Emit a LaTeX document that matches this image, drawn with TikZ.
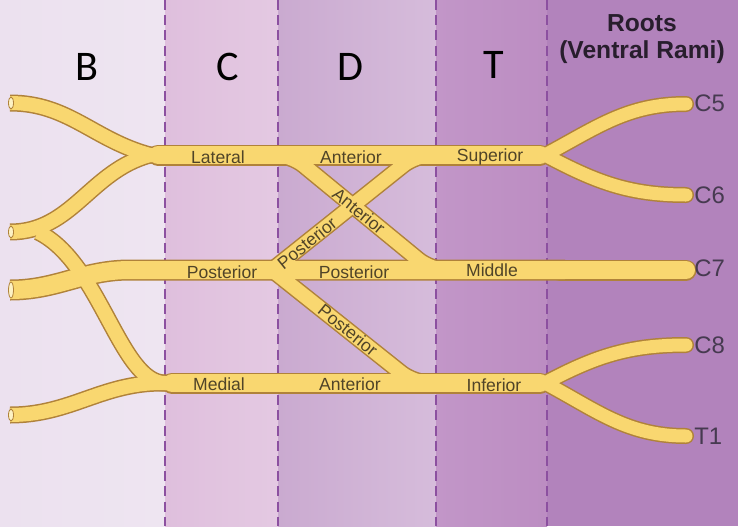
\documentclass[tikz,border=0pt]{standalone}
\usepackage{fontspec}
\setmainfont{Liberation Sans}
\newfontfamily\zonefont{Carlito}
\usepackage{xcolor}
\usepackage{tikz}
\usetikzlibrary{positioning, calc}
\definecolor{nerveYellow}{RGB}{249, 215, 112}
\definecolor{nerveBrown}{RGB}{176, 130, 58}
\definecolor{nerveCut}{RGB}{253, 242, 196}
\definecolor{zoneLine}{RGB}{140, 80, 160}
\definecolor{labelText}{RGB}{80, 68, 40}
\definecolor{rootText}{RGB}{70, 58, 80}
\definecolor{titleText}{RGB}{40, 30, 45}
\definecolor{bgB}{RGB}{236, 225, 239}
\definecolor{bgBb}{RGB}{238, 229, 241}
\definecolor{bgC}{RGB}{223, 191, 221}
\definecolor{bgCc}{RGB}{228, 201, 226}
\definecolor{bgD}{RGB}{202, 170, 208}
\definecolor{bgDd}{RGB}{214, 188, 219}
\definecolor{bgT}{RGB}{194, 150, 200}
\definecolor{bgTt}{RGB}{188, 141, 194}
\definecolor{bgRoots}{RGB}{178, 131, 188}

\begin{document}
\begin{tikzpicture}[x=0.25mm, y=-0.25mm,
    zoneline/.style={draw=zoneLine, line width=0.5mm, dash pattern=on 2.5mm off 1.3mm},
    zonetext/.style={font=\zonefont\fontsize{30}{32}\selectfont, text=black, inner sep=0pt},
    titletext/.style={font=\bfseries\fontsize{17.5}{19.5}\selectfont, align=center, text=titleText, inner sep=0pt},
    nervelabel/.style={font=\fontsize{12.5}{14}\selectfont, text=labelText, inner sep=0pt},
    rootlabel/.style={font=\fontsize{17}{19}\selectfont, text=rootText, anchor=west, inner sep=0pt},
    cutend/.style={fill=nerveCut, draw=nerveBrown, line width=0.2mm}]

    \useasboundingbox (0,0) rectangle (738,526);

    % Zones (branches, cords, divisions, trunks, roots)
    \shade[left color=bgB, right color=bgBb] (0,0) rectangle (165,526);
    \shade[left color=bgC, right color=bgCc] (165,0) rectangle (278,526);
    \shade[left color=bgD, right color=bgDd] (278,0) rectangle (436,526);
    \shade[left color=bgT, right color=bgTt] (436,0) rectangle (547,526);
    \fill[bgRoots] (547,0) rectangle (738,526);
    \foreach \x in {165,278,436,547} {
        \draw[zoneline] (\x,0) -- (\x,526);
    }

    % Nerves: outline pass, then fill pass
    \foreach \ncol/\wcord/\wbranch/\wroot in {nerveBrown/5.25mm/4.25mm/4mm, nerveYellow/4.5mm/3.5mm/3.25mm} {
        \begin{scope}[line cap=butt,
                cord/.style={draw=\ncol, line width=\wcord},
                branch/.style={draw=\ncol, line width=\wbranch},
                root/.style={draw=\ncol, line width=\wroot, line cap=round}]
            % trunks, divisions and cords
            \draw[cord, line cap=round] (540,155) -- (158,155);
            \draw[cord] (565,270) -- (130,270) to[out=180,in=0] (10,290);
            \draw[cord, line cap=round] (540,383) -- (172,383);
            % divisions crossing in D
            \draw[branch, rounded corners=4mm] (272,270) -- (416,155) -- (450,155);
            \draw[branch, rounded corners=4mm] (450,270) -- (431,270) -- (291,155) -- (265,155);
            \draw[branch, rounded corners=4mm] (272,270) -- (414,383) -- (450,383);
            % roots
            \draw[root] (545,155) to[out=28,in=180] (686,104);
            \draw[root] (545,155) to[out=-28,in=180] (686,195);
            \draw[cord, line cap=round] (686,270) -- (560,270);
            \draw[root] (545,383) to[out=28,in=180] (686,345);
            \draw[root] (545,383) to[out=-28,in=180] (686,436);
            % terminal branches
            \draw[branch] (190,155) -- (150,155) to[out=165,in=0] (10,103);
            \draw[branch] (190,155) -- (150,155) to[out=195,in=0] (10,232);
            \draw[branch] (200,383) -- (165,383) .. controls (120,383) and (100,262) .. (38,232);
            \draw[branch] (200,383) -- (162,383) to[out=180,in=0] (10,415);
        \end{scope}
    }
    % cut ends
    \foreach \y/\r in {103/6, 232/6, 290/8, 415/6} {
        \filldraw[cutend] (11,\y) ellipse (2.5 and \r);
    }

    % Nerve labels
    \node[nervelabel] (latCord) at (218,157) {Lateral};
    \node[nervelabel] (antTop) at (351,157) {Anterior};
    \node[nervelabel] (supTrunk) at (490,157) {Superior};
    \node[nervelabel] (postCord) at (222,272) {Posterior};
    \node[nervelabel] (postMid) at (354,272) {Posterior};
    \node[nervelabel] (midTrunk) at (492,270) {Middle};
    \node[nervelabel] (medCord) at (219,384) {Medial};
    \node[nervelabel] (antBot) at (350,384) {Anterior};
    \node[nervelabel] (infTrunk) at (494,385) {Inferior};
    \node[nervelabel, rotate=-39] (antDiag) at (359,211) {Anterior};
    \node[nervelabel, rotate=39] (postUp) at (307,243) {Posterior};
    \node[nervelabel, rotate=-39] (postLow) at (348,330) {Posterior};

    % Root labels
    \foreach \name/\y in {C5/103, C6/195, C7/268, C8/345, T1/436} {
        \node[rootlabel] (root\name) at (694,\y) {\name};
    }

    % Headings
    \node[titletext] (rootsTitle) at (642,39) {Roots\\(Ventral Rami)};
    \node[zonetext] (zoneB) at (87,67) {B};
    \node[zonetext] (zoneC) at (228,67) {C};
    \node[zonetext] (zoneD) at (350,67) {D};
    \node[zonetext] (zoneT) at (494,65) {T};
\end{tikzpicture}
\end{document}
